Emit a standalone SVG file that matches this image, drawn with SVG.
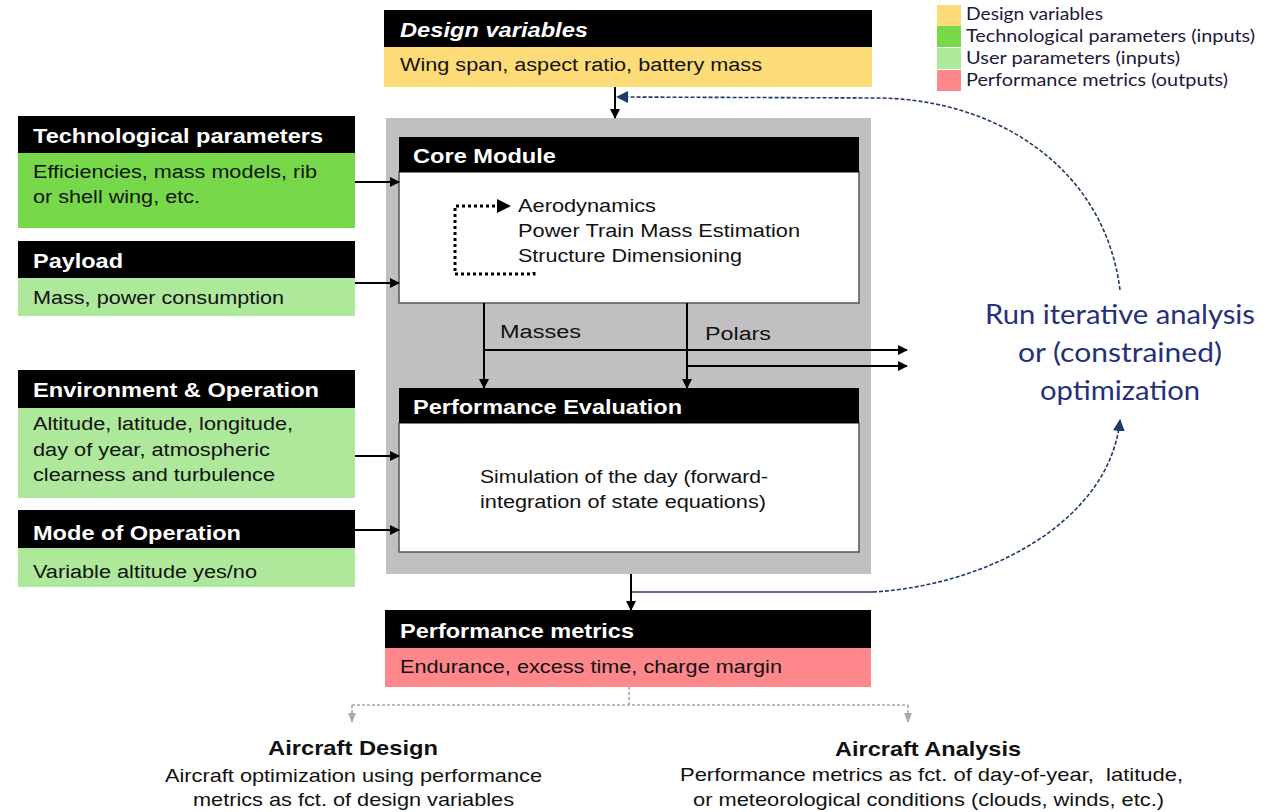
<svg xmlns="http://www.w3.org/2000/svg" width="1272" height="812" viewBox="0 0 1272 812">
<defs>
<style>
.hd{fill:#000}
.ht{font-family:"Liberation Sans",Arial,sans-serif;font-weight:bold;font-size:20px;fill:#fff}
.bt{font-family:"Liberation Sans",Arial,sans-serif;font-size:18px;fill:#111}
.yel{fill:#fddc78}.grn{fill:#77d94a}.lgr{fill:#aee89a}.pnk{fill:#fe878c}
.ln{stroke:#000;stroke-width:2;fill:none}
.bl{stroke:#1f3a68;stroke-width:1.6;fill:none}
.bld{stroke:#1f3a68;stroke-width:1.6;fill:none;stroke-dasharray:4 2}
.gd{stroke:#a8a8a8;stroke-width:1.6;fill:none;stroke-dasharray:3 2}
.lg{font-family:Lato,"Open Sans",sans-serif;font-size:17px;fill:#1a1a3a}
.run{font-family:Lato,"Open Sans",sans-serif;font-size:27px;fill:#26307a}
.nt{font-family:"Liberation Sans",Arial,sans-serif;fill:#111}
</style>
<marker id="ar" markerWidth="10" markerHeight="10" refX="9" refY="5" orient="auto" markerUnits="userSpaceOnUse"><path d="M0,0 L10,5 L0,10 z" fill="#000"/></marker>
<marker id="ab" markerWidth="12" markerHeight="12" refX="11" refY="6" orient="auto" markerUnits="userSpaceOnUse"><path d="M0,0 L12,6 L0,12 z" fill="#1f3a68"/></marker>
<marker id="ag" markerWidth="10" markerHeight="10" refX="9" refY="5" orient="auto" markerUnits="userSpaceOnUse"><path d="M0,1 L10,5 L0,9 z" fill="#a8a8a8"/></marker>
</defs>
<rect width="1272" height="812" fill="#fff"/>

<g id="legend">
<rect x="937" y="5" width="24" height="21" class="yel"/>
<rect x="937" y="26" width="24" height="21" class="grn"/>
<rect x="937" y="48" width="24" height="21" class="lgr"/>
<rect x="937" y="70" width="24" height="21" class="pnk"/>
<text x="966" y="20" class="lg" textLength="137" lengthAdjust="spacingAndGlyphs">Design variables</text>
<text x="966" y="42" class="lg" textLength="289" lengthAdjust="spacingAndGlyphs">Technological parameters (inputs)</text>
<text x="966" y="64" class="lg" textLength="214" lengthAdjust="spacingAndGlyphs">User parameters (inputs)</text>
<text x="966" y="86" class="lg" textLength="262" lengthAdjust="spacingAndGlyphs">Performance metrics (outputs)</text>
</g>

<g id="design-variables">
<rect x="384" y="10" width="488" height="37" class="hd"/>
<rect x="384" y="47" width="488" height="40" class="yel"/>
<text x="400" y="37" class="ht" font-style="italic" textLength="188" lengthAdjust="spacingAndGlyphs">Design variables</text>
<text x="400" y="71" class="bt" textLength="362" lengthAdjust="spacingAndGlyphs">Wing span, aspect ratio, battery mass</text>
</g>

<g id="main-module">
<rect x="386" y="118" width="485" height="456" fill="#c0c0c0"/>
</g>

<g id="core-module">
<rect x="399" y="172" width="460" height="131" fill="#fff" stroke="#555" stroke-width="1.5"/>
<rect x="399" y="137" width="460" height="35" class="hd"/>
<text x="413" y="163" class="ht" textLength="143" lengthAdjust="spacingAndGlyphs">Core Module</text>
<text x="518" y="212" class="bt" textLength="138" lengthAdjust="spacingAndGlyphs">Aerodynamics</text>
<text x="518" y="237" class="bt" textLength="282" lengthAdjust="spacingAndGlyphs">Power Train Mass Estimation</text>
<text x="518" y="262" class="bt" textLength="224" lengthAdjust="spacingAndGlyphs">Structure Dimensioning</text>
<path d="M534,272 L534,274 L455,274 L455,206 L500,206" fill="none" stroke="#000" stroke-width="3" stroke-dasharray="3 3"/>
<path d="M497,199 L511,206 L497,213 z" fill="#000"/>
</g>

<g id="performance-evaluation">
<rect x="399" y="423" width="460" height="129" fill="#fff" stroke="#555" stroke-width="1.5"/>
<rect x="399" y="388" width="460" height="35" class="hd"/>
<text x="413" y="414" class="ht" textLength="269" lengthAdjust="spacingAndGlyphs">Performance Evaluation</text>
<text x="480" y="483" class="bt" textLength="288" lengthAdjust="spacingAndGlyphs">Simulation of the day (forward-</text>
<text x="480" y="508" class="bt" textLength="286" lengthAdjust="spacingAndGlyphs">integration of state equations)</text>
</g>

<g id="technological-parameters">
<rect x="18" y="116" width="337" height="37" class="hd"/>
<rect x="18" y="153" width="337" height="75" class="grn"/>
<text x="33" y="143" class="ht" textLength="290" lengthAdjust="spacingAndGlyphs">Technological parameters</text>
<text x="33" y="178" class="bt" textLength="284" lengthAdjust="spacingAndGlyphs">Efficiencies, mass models, rib</text>
<text x="33" y="203" class="bt" textLength="167" lengthAdjust="spacingAndGlyphs">or shell wing, etc.</text>
</g>

<g id="payload">
<rect x="18" y="241" width="337" height="37" class="hd"/>
<rect x="18" y="278" width="337" height="38" class="lgr"/>
<text x="33" y="268" class="ht" textLength="90" lengthAdjust="spacingAndGlyphs">Payload</text>
<text x="33" y="304" class="bt" textLength="251" lengthAdjust="spacingAndGlyphs">Mass, power consumption</text>
</g>

<g id="environment-operation">
<rect x="18" y="370" width="337" height="38" class="hd"/>
<rect x="18" y="408" width="337" height="90" class="lgr"/>
<text x="33" y="397" class="ht" textLength="286" lengthAdjust="spacingAndGlyphs">Environment &amp; Operation</text>
<text x="33" y="430" class="bt" textLength="260" lengthAdjust="spacingAndGlyphs">Altitude, latitude, longitude,</text>
<text x="33" y="456" class="bt" textLength="237" lengthAdjust="spacingAndGlyphs">day of year, atmospheric</text>
<text x="33" y="481" class="bt" textLength="242" lengthAdjust="spacingAndGlyphs">clearness and turbulence</text>
</g>

<g id="mode-of-operation">
<rect x="18" y="510" width="337" height="38" class="hd"/>
<rect x="18" y="548" width="337" height="39" class="lgr"/>
<text x="33" y="540" class="ht" textLength="208" lengthAdjust="spacingAndGlyphs">Mode of Operation</text>
<text x="33" y="578" class="bt" textLength="224" lengthAdjust="spacingAndGlyphs">Variable altitude yes/no</text>
</g>

<g id="performance-metrics">
<rect x="385" y="610" width="486" height="38" class="hd"/>
<rect x="385" y="648" width="486" height="39" class="pnk"/>
<text x="400" y="638" class="ht" textLength="234" lengthAdjust="spacingAndGlyphs">Performance metrics</text>
<text x="400" y="673" class="bt" textLength="382" lengthAdjust="spacingAndGlyphs">Endurance, excess time, charge margin</text>
</g>

<g id="run-analysis">
<text x="985" y="324" class="run" textLength="270" lengthAdjust="spacingAndGlyphs">Run iterative analysis</text>
<text x="1018" y="362" class="run" textLength="204" lengthAdjust="spacingAndGlyphs">or (constrained)</text>
<text x="1040" y="400" class="run" textLength="160" lengthAdjust="spacingAndGlyphs">optimization</text>
</g>

<g id="aircraft-design">
<text x="268" y="755" class="nt" font-size="21" font-weight="bold" textLength="170" lengthAdjust="spacingAndGlyphs">Aircraft Design</text>
<text x="165" y="782" class="nt" font-size="18.5" textLength="377" lengthAdjust="spacingAndGlyphs">Aircraft optimization using performance</text>
<text x="193" y="806" class="nt" font-size="18.5" textLength="321" lengthAdjust="spacingAndGlyphs">metrics as fct. of design variables</text>
</g>

<g id="aircraft-analysis">
<text x="835" y="756" class="nt" font-size="21" font-weight="bold" textLength="186" lengthAdjust="spacingAndGlyphs">Aircraft Analysis</text>
<text x="680" y="781" class="nt" font-size="18.5" textLength="503" lengthAdjust="spacingAndGlyphs" xml:space="preserve">Performance metrics as fct. of day-of-year,  latitude,</text>
<text x="693" y="806" class="nt" font-size="18.5" textLength="471" lengthAdjust="spacingAndGlyphs">or meteorological conditions (clouds, winds, etc.)</text>
</g>

<g id="connectors">
<line x1="615" y1="87" x2="615" y2="118" class="ln" marker-end="url(#ar)"/>
<line x1="355" y1="182" x2="399" y2="182" class="ln" marker-end="url(#ar)"/>
<line x1="355" y1="283" x2="399" y2="283" class="ln" marker-end="url(#ar)"/>
<line x1="355" y1="456" x2="399" y2="456" class="ln" marker-end="url(#ar)"/>
<line x1="355" y1="530" x2="399" y2="530" class="ln" marker-end="url(#ar)"/>
<line x1="484" y1="303" x2="484" y2="388" class="ln" marker-end="url(#ar)"/>
<line x1="687" y1="303" x2="687" y2="388" class="ln" marker-end="url(#ar)"/>
<line x1="484" y1="350" x2="907" y2="350" class="ln" marker-end="url(#ar)"/>
<line x1="687" y1="366" x2="907" y2="366" class="ln" marker-end="url(#ar)"/>
<text x="500" y="338" class="bt" font-size="19" textLength="81" lengthAdjust="spacingAndGlyphs">Masses</text>
<text x="705" y="340" class="bt" font-size="19" textLength="66" lengthAdjust="spacingAndGlyphs">Polars</text>
<line x1="631" y1="574" x2="631" y2="610" class="ln" marker-end="url(#ar)"/>
<path d="M632,592 L873,592" class="bl"/>
<path d="M873,592 C990,585 1110,520 1120,420" class="bld" marker-end="url(#ab)"/>
<path d="M1120,290 C1105,170 1000,100 880,98 L617,97" class="bld" marker-end="url(#ab)"/>
<path d="M629,687 L629,705" class="gd"/>
<path d="M352,705 L908,705" class="gd"/>
<path d="M352,705 L352,722" class="gd" marker-end="url(#ag)"/>
<path d="M908,705 L908,722" class="gd" marker-end="url(#ag)"/>
</g>
</svg>
